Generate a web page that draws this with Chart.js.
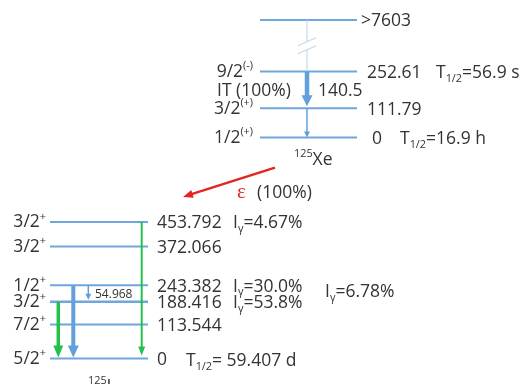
<!DOCTYPE html>
<html>
<head>
<meta charset="utf-8">
<script src="https://cdn.jsdelivr.net/npm/chart.js@4/dist/chart.umd.min.js"></script>
<style>
  html, body { margin: 0; padding: 0; background: #fff; }
  canvas { display: block; }
</style>
</head>
<body>
<canvas id="scheme" width="522" height="384"></canvas>
<script>
// ---- 125Xe (parent) ----
const xeEnergies = [0, 111.79, 252.61];
const xeSpins = ['1/2', '3/2', '9/2'];
const xeParities = ['(+)', '(+)', '(-)'];
const xeHalfLives = ['16.9 h', null, '56.9 s'];
const xeHighLevel = '>7603';
const xeGammaFrom = [252.61, 111.79];
const xeGammaTo = [111.79, 0];
const xeGammaLabels = ['140.5', null];
const xeITBranch = 'IT (100%)';
const ecBranch = '(100%)';

// ---- 125I (daughter) ----
const iEnergies = [0, 113.544, 188.416, 243.382, 372.066, 453.792];
const iEnergyLabels = ['0', '113.544', '188.416', '243.382', '372.066', '453.792'];
const iSpins = ['5/2', '7/2', '3/2', '1/2', '3/2', '3/2'];
const iParities = ['+', '+', '+', '+', '+', '+'];
const iHalfLife = '59.407 d';
const iGammaFrom = [453.792, 243.382, 243.382, 188.416];
const iGammaTo = [0, 0, 188.416, 0];
const iGammaIntensity = ['4.67%', '30.0%', '6.78%', '53.8%'];
const iGammaLabels = [null, null, '54.968', null];

// ---- styling / layout ----
const LEVEL_BLUE = '#6fa6dc';
const ARROW_BLUE = '#62a0dc';
const GREEN = '#22c04c';
const RED = '#e4261f';
const PALE = '#c3d9ee';
const TEXT = '#333333';
const FONT = '"Open Sans", "Liberation Sans", sans-serif';
const BIG = 17.5;

const xeLevelX = [260, 357];
const iLevelX = [50, 148];
const xeBreakGap = 196;          // display gap above the highest known level
const xeArrowX = 307;
const xeGammaStyle = [
  { w: 4.5, hw: 11, hl: 11, color: ARROW_BLUE, gap: 2 },
  { w: 1.5, hw: 6, hl: 6, color: ARROW_BLUE, gap: 0 }
];
const iGammaStyle = [
  { x: 141.7, w: 2, hw: 7, hl: 9, color: GREEN, gap: 3 },
  { x: 73.3, w: 4, hw: 11, hl: 12, color: ARROW_BLUE, gap: 1 },
  { x: 88.3, w: 1.5, hw: 6, hl: 6, color: ARROW_BLUE, gap: 2 },
  { x: 58.3, w: 3.5, hw: 10, hl: 12, color: GREEN, gap: 1 }
];
const iIntensityX = [233, 233, 325, 233];

function levelDataset(xr, energy, axis, width) {
  return {
    type: 'line',
    data: [{ x: xr[0], y: energy }, { x: xr[1], y: energy }],
    yAxisID: axis,
    borderColor: LEVEL_BLUE,
    borderWidth: width || 2,
    pointRadius: 0,
    fill: false,
    tension: 0
  };
}

const datasets = [];
xeEnergies.forEach(e => datasets.push(levelDataset(xeLevelX, e, 'yXe')));
datasets.push(levelDataset(xeLevelX, Math.max(...xeEnergies) + xeBreakGap, 'yXe'));
iEnergies.forEach(e => datasets.push(levelDataset(iLevelX, e, 'yI', e === 188.416 ? 2.5 : 2)));

function arrow(ctx, x0, y0, x1, y1, w, hw, hl, color) {
  const a = Math.atan2(y1 - y0, x1 - x0);
  const c = Math.cos(a), s = Math.sin(a);
  const bx = x1 - hl * c, by = y1 - hl * s;
  ctx.strokeStyle = color;
  ctx.lineWidth = w;
  ctx.lineCap = 'butt';
  ctx.beginPath();
  ctx.moveTo(x0, y0);
  ctx.lineTo(bx + c, by + s);
  ctx.stroke();
  ctx.fillStyle = color;
  ctx.beginPath();
  ctx.moveTo(x1, y1);
  ctx.lineTo(bx + (hw / 2) * s, by - (hw / 2) * c);
  ctx.lineTo(bx - (hw / 2) * s, by + (hw / 2) * c);
  ctx.closePath();
  ctx.fill();
}

// rich text: parts are [text, 'n' | 'sup' | 'sub']
function rich(ctx, parts, x, midY, size, align, color) {
  const segs = parts.map(([t, m]) => {
    const sz = m === 'n' ? size : size * 0.62;
    ctx.font = `${sz}px ${FONT}`;
    return { t, m, sz, w: ctx.measureText(t).width };
  });
  const total = segs.reduce((a, b) => a + b.w, 0);
  let cx = align === 'right' ? x - total : x;
  const base = midY + size * 0.357;
  ctx.fillStyle = color;
  ctx.textAlign = 'left';
  ctx.textBaseline = 'alphabetic';
  segs.forEach(sg => {
    ctx.font = `${sg.sz}px ${FONT}`;
    let y = base;
    if (sg.m === 'sup') y = base - size * 0.42;
    if (sg.m === 'sub') y = base + size * 0.22;
    ctx.fillText(sg.t, cx, y);
    cx += sg.w;
  });
}

const schemePlugin = {
  id: 'scheme',
  afterDatasetsDraw(chart) {
    const ctx = chart.ctx;
    const X = v => chart.scales.x.getPixelForValue(v);
    const YX = v => chart.scales.yXe.getPixelForValue(v);
    const YI = v => chart.scales.yI.getPixelForValue(v);
    ctx.save();

    // broken feed line from the high-lying level
    const xeTop = Math.max(...xeEnergies);
    const yHigh = YX(xeTop + xeBreakGap), yTop = YX(xeTop);
    const bx = X(xeArrowX);
    const mid = (yHigh + yTop) / 2;
    ctx.strokeStyle = PALE;
    ctx.lineWidth = 1.2;
    ctx.beginPath();
    ctx.moveTo(bx, yHigh); ctx.lineTo(bx, mid - 4);
    ctx.moveTo(bx, mid + 4); ctx.lineTo(bx, yTop);
    ctx.moveTo(bx - 9, mid); ctx.lineTo(bx + 9, mid - 8);
    ctx.moveTo(bx - 9, mid + 8); ctx.lineTo(bx + 9, mid);
    ctx.stroke();

    // 125Xe isomeric transitions
    xeGammaFrom.forEach((e, i) => {
      const st = xeGammaStyle[i];
      arrow(ctx, X(xeArrowX), YX(e), X(xeArrowX), YX(xeGammaTo[i]) - st.gap, st.w, st.hw, st.hl, st.color);
    });

    // 125I gamma transitions
    iGammaFrom.forEach((e, i) => {
      const st = iGammaStyle[i];
      arrow(ctx, X(st.x), YI(e), X(st.x), YI(iGammaTo[i]) - st.gap, st.w, st.hw, st.hl, st.color);
    });

    // electron capture 125Xe -> 125I
    const ecStart = { x: X(275), y: YX(0) + 30 };
    const ecEnd = { x: X(183), y: YI(Math.max(...iEnergies)) - 25 };
    arrow(ctx, ecStart.x, ecStart.y, ecEnd.x, ecEnd.y, 2.5, 8, 10, RED);
    ctx.font = `21px "Liberation Serif", "DejaVu Serif", serif`;
    ctx.fillStyle = RED;
    ctx.textBaseline = 'alphabetic';
    ctx.fillText('\u03b5', X(237), ecEnd.y - 5 + 6);
    rich(ctx, [[ecBranch, 'n']], X(257), ecEnd.y - 5, BIG, 'left', TEXT);

    // 125Xe labels
    xeEnergies.forEach((e, i) => {
      const y = YX(e);
      rich(ctx, [[xeSpins[i], 'n'], [xeParities[i], 'sup']], X(253), y - 1, BIG, 'right', TEXT);
      rich(ctx, [[String(e), 'n']], X(e === 0 ? 372 : 367), y, BIG, 'left', TEXT);
      if (xeHalfLives[i]) {
        rich(ctx, [['T', 'n'], ['1/2', 'sub'], ['=' + xeHalfLives[i], 'n']],
          X(e === 0 ? 400 : 436), y, BIG, 'left', TEXT);
      }
    });
    rich(ctx, [[xeHighLevel, 'n']], X(361), yHigh, BIG, 'left', TEXT);
    const itMid = (YX(xeGammaFrom[0]) + YX(xeGammaTo[0])) / 2;
    rich(ctx, [[xeITBranch, 'n']], X(217), itMid, BIG, 'left', TEXT);
    rich(ctx, [[xeGammaLabels[0], 'n']], X(318), itMid, BIG, 'left', TEXT);
    rich(ctx, [['125', 'sup'], ['Xe', 'n']], X(294), YX(0) + 21, BIG, 'left', TEXT);

    // 125I labels
    iEnergies.forEach((e, i) => {
      const y = YI(e);
      rich(ctx, [[iSpins[i], 'n'], [iParities[i], 'sup']], X(46), y - 1, BIG, 'right', TEXT);
      rich(ctx, [[iEnergyLabels[i], 'n']], X(157), y, BIG, 'left', TEXT);
    });
    rich(ctx, [['T', 'n'], ['1/2', 'sub'], ['= ' + iHalfLife, 'n']], X(186), YI(0) + 1, BIG, 'left', TEXT);
    iGammaFrom.forEach((e, i) => {
      const to = iGammaTo[i];
      const y = to === 0 ? YI(e) : (YI(e) + YI(to)) / 2 - 3;
      rich(ctx, [['I', 'n'], ['\u03b3', 'sub'], ['=' + iGammaIntensity[i], 'n']], X(iIntensityX[i]), y, BIG, 'left', TEXT);
      if (iGammaLabels[i]) {
        rich(ctx, [[iGammaLabels[i], 'n']], X(95), (YI(e) + YI(to)) / 2, 12, 'left', TEXT);
      }
    });
    rich(ctx, [['125', 'sup'], ['I', 'n']], X(88), YI(0) + 27, BIG, 'left', TEXT);

    ctx.restore();
  }
};

new Chart(document.getElementById('scheme'), {
  type: 'line',
  data: { datasets },
  options: {
    responsive: false,
    animation: false,
    events: [],
    layout: { padding: 0 },
    plugins: { legend: { display: false }, tooltip: { enabled: false } },
    scales: {
      x: { type: 'linear', min: 0, max: 522, display: false },
      yI: { type: 'linear', min: -84.3, max: 1190.2, display: false },
      yXe: { type: 'linear', min: -940.5, max: 525.2, display: false }
    }
  },
  plugins: [schemePlugin]
});
</script>
</body>
</html>
